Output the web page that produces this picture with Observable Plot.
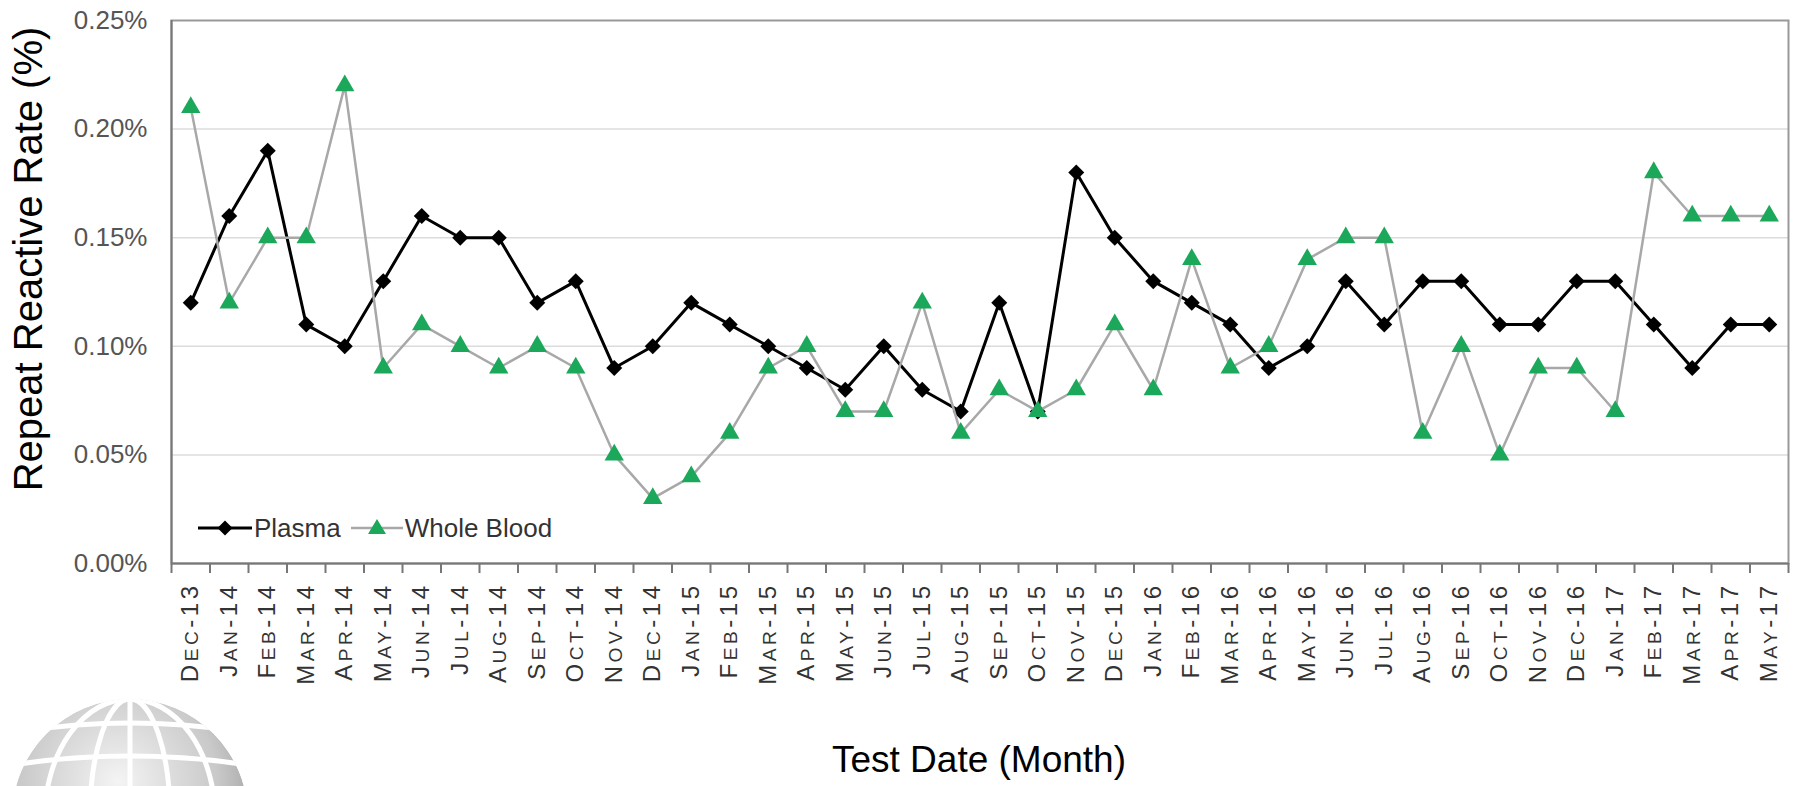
<!DOCTYPE html>
<html><head><meta charset="utf-8">
<script src="https://cdn.jsdelivr.net/npm/d3@7"></script>
<script src="https://cdn.jsdelivr.net/npm/@observablehq/plot@0.6"></script>
<style>
body{margin:0;background:#fff;font-family:"Liberation Sans",Arial,sans-serif;}
#wrap{position:relative;width:1797px;height:786px;overflow:hidden;background:#fff;}
#wrap svg.plot{position:absolute;left:0;top:0;}
g[aria-label="x-axis tick label"] text{letter-spacing:3.5px;}
.ytitle{position:absolute;left:28px;top:259px;transform:translate(-50%,-50%) rotate(-90deg);white-space:nowrap;font-size:40px;line-height:40px;color:#000;}
.xtitle{position:absolute;left:979px;top:741px;transform:translateX(-50%);white-space:nowrap;font-size:37px;line-height:37px;color:#000;}
.legend{position:absolute;left:196px;top:513px;display:flex;align-items:center;font-size:26px;color:#333;height:30px;}
.legend svg{display:block;}
.legend span{margin-right:8px;}
.logo{position:absolute;left:12px;top:695px;}
</style></head><body>
<div id="wrap"></div>
<script>
const months = ["Dec-13","Jan-14","Feb-14","Mar-14","Apr-14","May-14","Jun-14","Jul-14","Aug-14","Sep-14","Oct-14","Nov-14","Dec-14","Jan-15","Feb-15","Mar-15","Apr-15","May-15","Jun-15","Jul-15","Aug-15","Sep-15","Oct-15","Nov-15","Dec-15","Jan-16","Feb-16","Mar-16","Apr-16","May-16","Jun-16","Jul-16","Aug-16","Sep-16","Oct-16","Nov-16","Dec-16","Jan-17","Feb-17","Mar-17","Apr-17","May-17"];
const plasma = [0.12,0.16,0.19,0.11,0.10,0.13,0.16,0.15,0.15,0.12,0.13,0.09,0.10,0.12,0.11,0.10,0.09,0.08,0.10,0.08,0.07,0.12,0.07,0.18,0.15,0.13,0.12,0.11,0.09,0.10,0.13,0.11,0.13,0.13,0.11,0.11,0.13,0.13,0.11,0.09,0.11,0.11];
const wholeBlood = [0.21,0.12,0.15,0.15,0.22,0.09,0.11,0.10,0.09,0.10,0.09,0.05,0.03,0.04,0.06,0.09,0.10,0.07,0.07,0.12,0.06,0.08,0.07,0.08,0.11,0.08,0.14,0.09,0.10,0.14,0.15,0.15,0.06,0.10,0.05,0.09,0.09,0.07,0.18,0.16,0.16,0.16];
const yTicks = [0, 0.05, 0.10, 0.15, 0.20, 0.25];
const seriesNames = ["Plasma", "Whole Blood"];

const rows = months.map((m, i) => ({i, month: m, plasma: plasma[i], wb: wholeBlood[i]}));
const idx = d3.range(months.length);
const bounds = d3.range(months.length + 1).map(i => i - 0.5);
const GREEN = "#1ba85a";

const chart = Plot.plot({
  width: 1797, height: 786,
  marginLeft: 171, marginRight: 9, marginTop: 20, marginBottom: 223,
  style: {fontFamily: "Liberation Sans, Arial, sans-serif", background: "transparent"},
  x: {domain: [-0.5, months.length - 0.5], axis: null},
  y: {domain: [0, 0.25], axis: null},
  marks: [
    Plot.gridY(yTicks.slice(1, -1), {stroke: "#dcdcdc", strokeOpacity: 1, strokeWidth: 1.5}),
    Plot.frame({stroke: "#999", strokeWidth: 2}),
    Plot.axisY(yTicks, {tickSize: 0, tickPadding: 24, tickFormat: d => d.toFixed(2) + "%", fontSize: 26, fill: "#555", label: null}),
    Plot.axisX(bounds, {tickSize: 10, tickFormat: () => "", stroke: "#777", strokeWidth: 2, label: null}),
    Plot.axisX(idx, {tickSize: 0, tickPadding: 19, tickRotate: -90, tickFormat: i => months[i], fontSize: 24, fill: "#333", label: null}),
    Plot.ruleY([0], {stroke: "#777", strokeWidth: 2}),
    Plot.ruleX([-0.5], {stroke: "#777", strokeWidth: 2}),
    Plot.line(rows, {x: "i", y: "plasma", stroke: "#000", strokeWidth: 3}),
    Plot.dot(rows, {x: "i", y: "plasma", symbol: "diamond2", fill: "#000", r: 7.2}),
    Plot.line(rows, {x: "i", y: "wb", stroke: "#a8a8a8", strokeWidth: 2.5}),
    Plot.dot(rows, {x: "i", y: "wb", symbol: "triangle", fill: GREEN, r: 7.2})
  ]
});
chart.classList.add("plot");

// small-caps styling of month labels: first letter full size, rest of the month smaller
d3.select(chart).selectAll('g[aria-label="x-axis tick label"] text').each(function() {
  const t = this.textContent;
  if (!t) return;
  const [mon, yr] = t.split("-");
  const sel = d3.select(this);
  sel.text(null);
  sel.append("tspan").text(mon[0].toUpperCase());
  sel.append("tspan").attr("font-size", "0.8em").text(mon.slice(1).toUpperCase());
  sel.append("tspan").text("-" + yr);
});

const wrap = document.getElementById("wrap");

// logo (decorative globe)
const logo = document.createElement("div");
logo.className = "logo";
logo.innerHTML = `<svg width="240" height="100" viewBox="0 0 240 100">
<defs><radialGradient id="gg" cx="0.45" cy="0.35" r="0.7"><stop offset="0" stop-color="#f4f4f4"/><stop offset="0.6" stop-color="#c9c9c9"/><stop offset="1" stop-color="#8f8f8f"/></radialGradient>
<clipPath id="gc"><circle cx="118" cy="122" r="118"/></clipPath></defs>
<g clip-path="url(#gc)"><circle cx="118" cy="122" r="118" fill="url(#gg)"/>
<g fill="none" stroke="#fff" stroke-width="5">
<path d="M0 38 Q118 18 236 38"/><path d="M0 70 Q118 52 236 70"/>
<ellipse cx="118" cy="122" rx="40" ry="118"/><ellipse cx="118" cy="122" rx="85" ry="118"/><line x1="118" y1="0" x2="118" y2="100"/></g></g></svg>`;
wrap.appendChild(logo);
wrap.appendChild(chart);

const yt = document.createElement("div"); yt.className = "ytitle"; yt.textContent = "Repeat Reactive Rate (%)"; wrap.appendChild(yt);
const xt = document.createElement("div"); xt.className = "xtitle"; xt.textContent = "Test Date (Month)"; wrap.appendChild(xt);

const lg = document.createElement("div"); lg.className = "legend";
lg.innerHTML = `<svg width="58" height="30"><line x1="2" y1="15" x2="56" y2="15" stroke="#000" stroke-width="3"/><path d="M29 7.5 L36.5 15 L29 22.5 L21.5 15 Z" fill="#000"/></svg><span>${seriesNames[0]}</span>
<svg width="56" height="30"><line x1="2" y1="15" x2="54" y2="15" stroke="#a8a8a8" stroke-width="2.5"/><path d="M28 6 L37 21 L19 21 Z" fill="${GREEN}"/></svg><span>${seriesNames[1]}</span>`;
wrap.appendChild(lg);
</script>
</body></html>
